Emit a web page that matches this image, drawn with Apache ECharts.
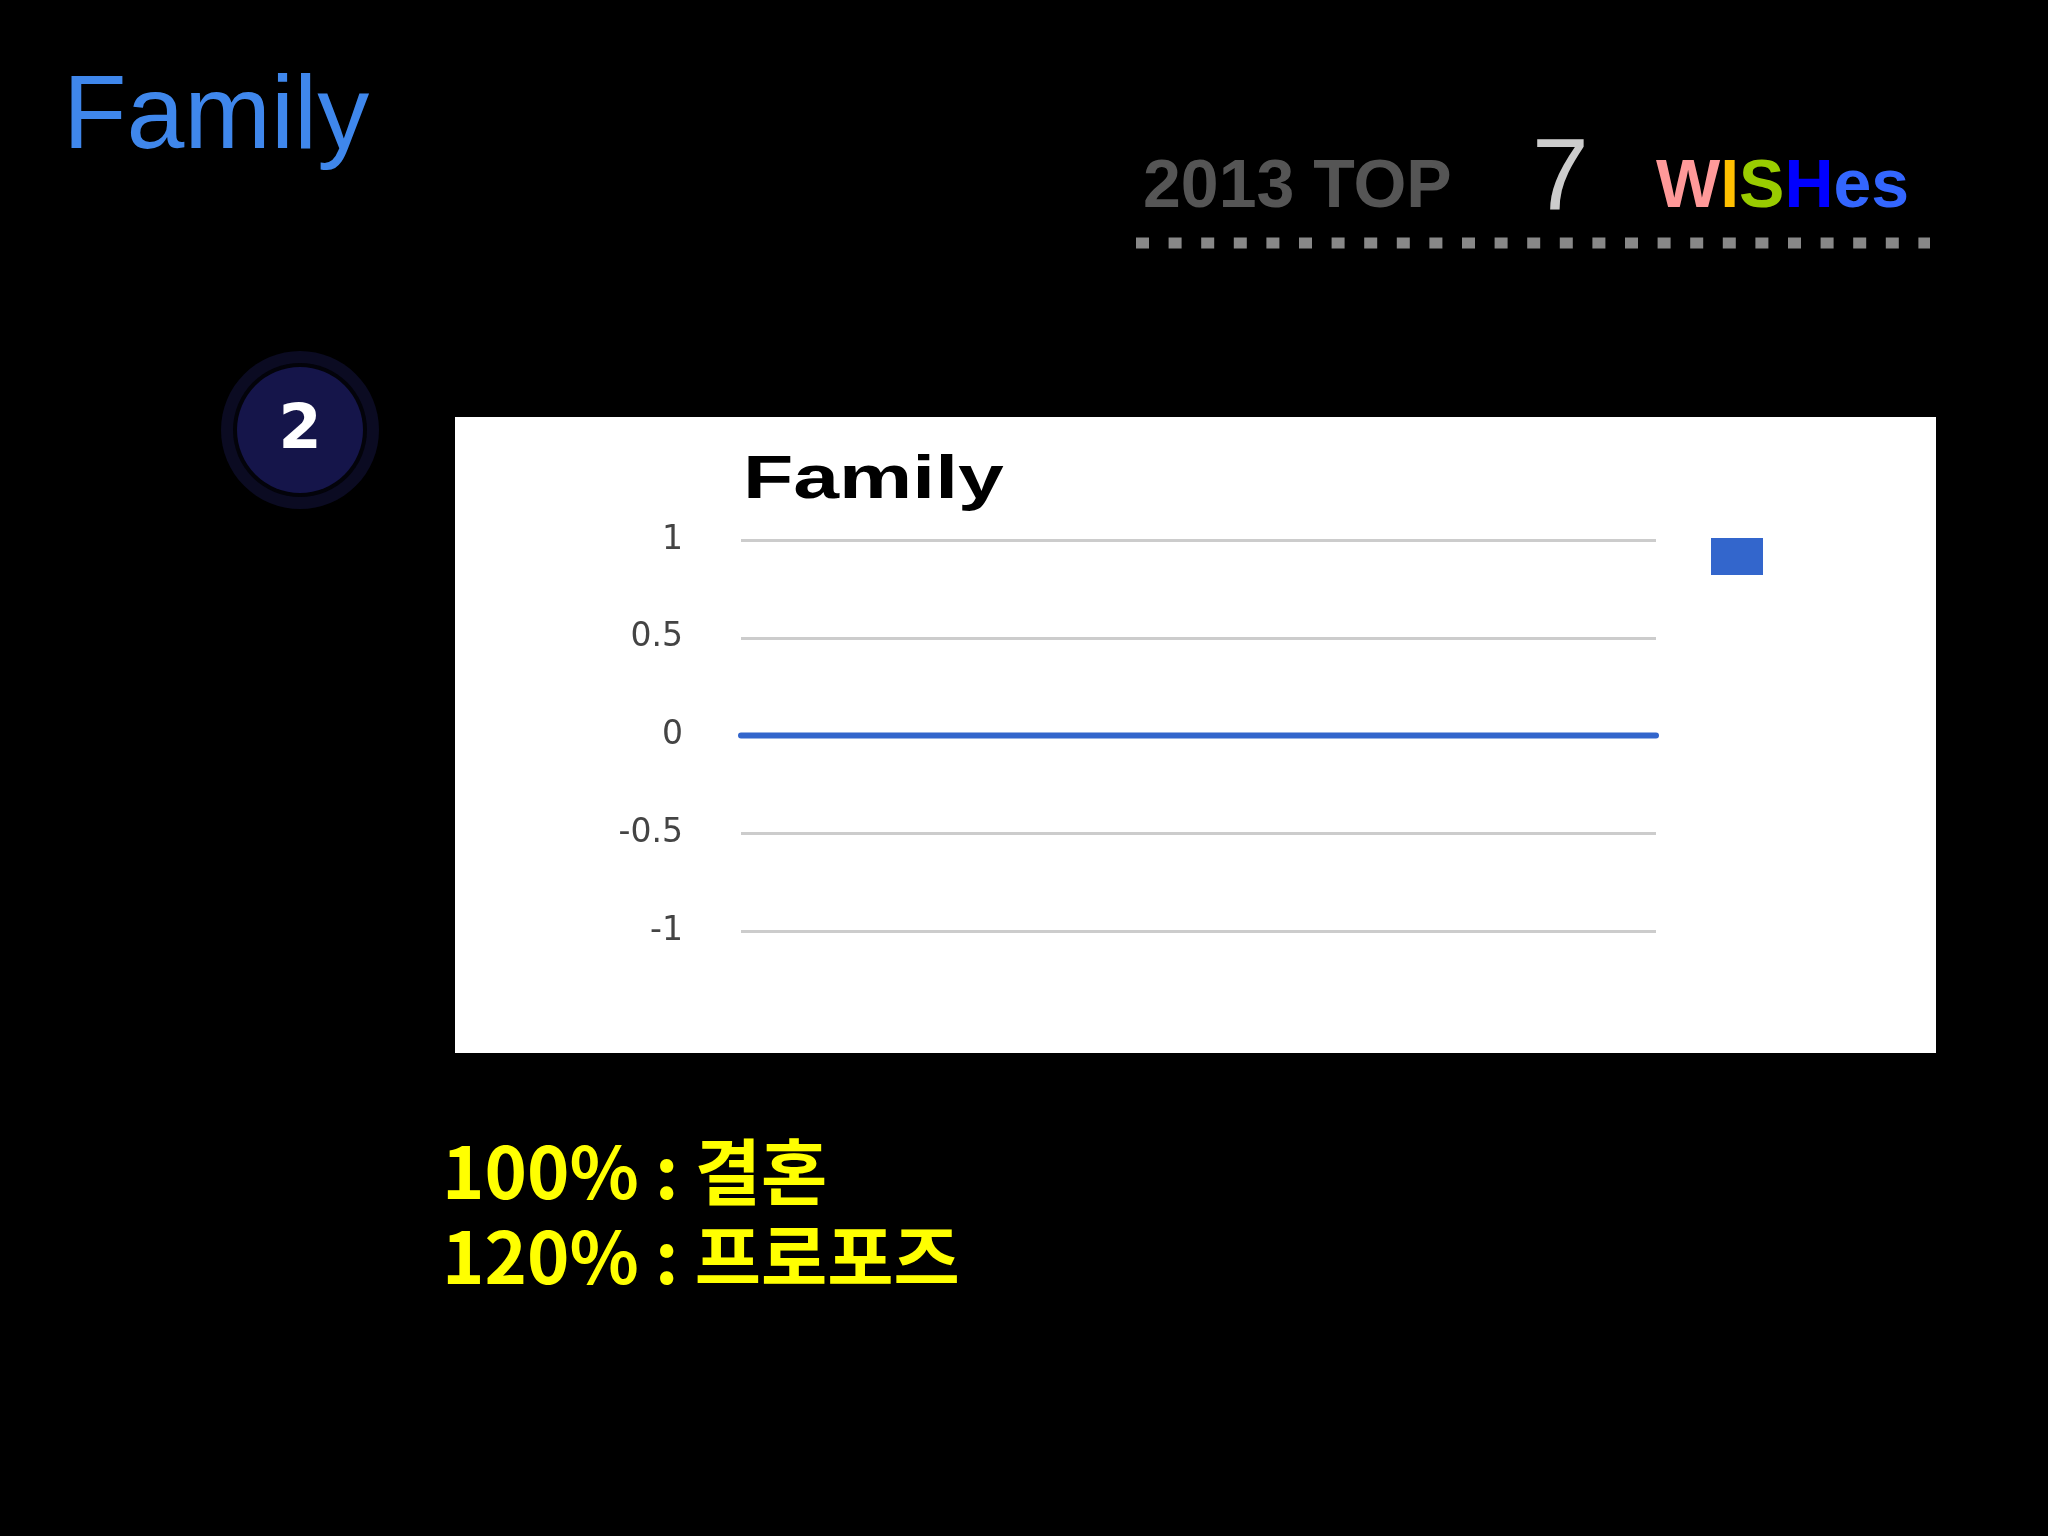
<!DOCTYPE html>
<html>
<head>
<meta charset="utf-8">
<script src="https://cdn.jsdelivr.net/npm/echarts@6/dist/echarts.min.js"></script>
<style>
html,body{margin:0;padding:0;background:#000;}
#main{width:2048px;height:1536px;}
</style>
</head>
<body>
<div id="main"></div>
<script>
// ---- data ----
var categories = ['', ''];
var seriesName = 'Family';
var familyValues = [0, 0];
var yTicks = [-1, -0.5, 0, 0.5, 1];
var slideTitle = 'Family';
var chartTitle = 'Family';
var noteLines = ['100% : 결혼', '120% : 프로포즈'];

var chart = echarts.init(document.getElementById('main'), null, {renderer: 'canvas'});

var option = {
  backgroundColor: '#000000',
  animation: false,
  grid: {left: 741, right: 392, top: 540, bottom: 605, containLabel: false},
  legend: {
    show: true,
    left: 1706, top: 533,
    icon: 'rect',
    itemWidth: 52, itemHeight: 37,
    formatter: function () { return ''; },
    data: [seriesName],
    z: 10
  },
  xAxis: {
    type: 'category',
    data: categories,
    boundaryGap: false,
    axisLine: {show: false},
    axisTick: {show: false},
    axisLabel: {show: false},
    splitLine: {show: false}
  },
  yAxis: {
    type: 'value',
    min: yTicks[0],
    max: yTicks[yTicks.length - 1],
    interval: 0.5,
    axisLine: {show: false},
    axisTick: {show: false},
    axisLabel: {
      margin: 58,
      fontSize: 33,
      fontFamily: 'DejaVu Sans',
      color: '#444444'
    },
    splitLine: {lineStyle: {color: '#cccccc', width: 3}}
  },
  series: [{
    name: seriesName,
    type: 'line',
    data: familyValues,
    symbol: 'none',
    color: '#3366cc',
    lineStyle: {color: '#3366cc', width: 6, cap: 'round'},
    z: 5
  }],
  graphic: [
    // white chart panel
    {type: 'rect', z: -10, shape: {x: 455, y: 417, width: 1481, height: 636}, style: {fill: '#ffffff'}},
    // chart title
    {type: 'text', x: 743, y: 451, scaleX: 1.35, z: 5,
      style: {text: chartTitle, x: 0, y: 0, fill: '#000000', font: 'bold 61px "Liberation Sans", Arial, sans-serif', verticalAlign: 'top'}},
    // slide title
    {type: 'text', x: 63, y: 67, z: 5,
      style: {text: slideTitle, fill: '#3f87ec', font: '104px "Liberation Sans", Arial, sans-serif', verticalAlign: 'top'}},
    // 2013 TOP 7 WISHes
    {type: 'text', x: 1143, y: 154, z: 5,
      style: {text: '2013 TOP', fill: '#555555', font: 'bold 68px "Liberation Sans", Arial, sans-serif', verticalAlign: 'top'}},
    {type: 'text', x: 1532, y: 131, z: 5,
      style: {text: '7', fill: '#cccccc', font: '102px "Liberation Sans", Arial, sans-serif', verticalAlign: 'top'}},
    {type: 'text', x: 1656, y: 154, z: 5,
      style: {
        text: '{a|W}{b|I}{c|S}{d|H}{e|es}',
        verticalAlign: 'top',
        font: 'bold 68px "Liberation Sans", Arial, sans-serif',
        rich: {
          a: {fill: '#ff9999', font: 'bold 68px "Liberation Sans", Arial, sans-serif'},
          b: {fill: '#ffc000', font: 'bold 68px "Liberation Sans", Arial, sans-serif'},
          c: {fill: '#99cc00', font: 'bold 68px "Liberation Sans", Arial, sans-serif'},
          d: {fill: '#0000ff', font: 'bold 68px "Liberation Sans", Arial, sans-serif'},
          e: {fill: '#3366ff', font: 'bold 68px "Liberation Sans", Arial, sans-serif'}
        }
      }},
    // dotted rule
    {type: 'line', z: 5, shape: {x1: 1136, y1: 243, x2: 1930, y2: 243},
      style: {stroke: '#888888', lineWidth: 11, lineDash: [13, 19.6], lineCap: 'butt'}},
    // numbered circle
    {type: 'circle', z: 4, shape: {cx: 300, cy: 430, r: 79}, style: {fill: '#0b0b22'}},
    {type: 'circle', z: 5, shape: {cx: 300, cy: 430, r: 67}, style: {fill: '#03030a'}},
    {type: 'circle', z: 6, shape: {cx: 300, cy: 430, r: 63}, style: {fill: '#15154a'}},
    {type: 'text', x: 300, y: 432, z: 7,
      style: {text: '2', fill: '#ffffff', font: 'bold 62px "DejaVu Sans", sans-serif', align: 'center', verticalAlign: 'middle'}},
    // yellow notes
    {type: 'text', x: 442, y: 1136, z: 5,
      style: {text: noteLines[0], fill: '#ffff00', font: 'bold 72px "Noto Sans CJK KR", sans-serif', verticalAlign: 'top'}},
    {type: 'text', x: 442, y: 1221, z: 5,
      style: {text: noteLines[1], fill: '#ffff00', font: 'bold 72px "Noto Sans CJK KR", sans-serif', verticalAlign: 'top'}}
  ]
};
chart.setOption(option);
</script>
</body>
</html>
